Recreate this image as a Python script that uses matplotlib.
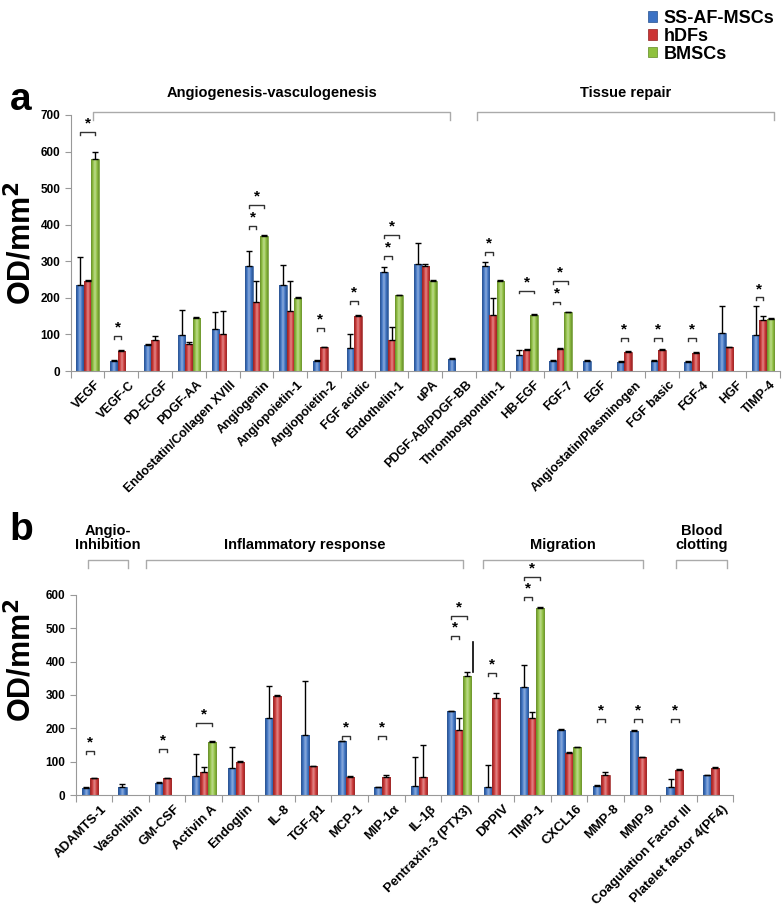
import numpy as np
import matplotlib.pyplot as plt
import matplotlib.transforms as mtransforms
from matplotlib.patches import Patch
from matplotlib.colors import LinearSegmentedColormap, to_rgb

plt.rcParams['font.family'] = ['Liberation Sans', 'DejaVu Sans']
plt.rcParams['font.weight'] = 'bold'

series = ['SS-AF-MSCs', 'hDFs', 'BMSCs']
colors = ['#3c72c4', '#cc3535', '#8fc13e']
edge_colors = ['#24508f', '#8f1f1f', '#5f8a22']

# ---- panel a data ----
cats_a = ['VEGF', 'VEGF-C', 'PD-ECGF', 'PDGF-AA', 'Endostatin/Collagen XVIII', 'Angiogenin',
          'Angiopoietin-1', 'Angiopoietin-2', 'FGF acidic', 'Endothelin-1', 'uPA',
          'PDGF-AB/PDGF-BB', 'Thrombospondin-1', 'HB-EGF', 'FGF-7', 'EGF',
          'Angiostatin/Plasminogen', 'FGF basic', 'FGF-4', 'HGF', 'TIMP-4']
ss_a = [236, 27, 71, 99, 116, 287, 236, 28, 63, 271, 293, 33, 288, 44, 28, 28, 25, 28, 25, 104, 99]
hdf_a = [246, 55, 85, 73, 101, 189, 164, 65, 150, 85, 286, 0, 154, 58, 61, 0, 53, 58, 50, 65, 140]
bm_a = [580, 0, 0, 145, 0, 370, 199, 0, 0, 207, 245, 0, 245, 153, 160, 0, 0, 0, 0, 0, 143]
ss_err_a = [75, 3, 3, 67, 44, 42, 54, 3, 38, 12, 57, 2, 9, 14, 2, 2, 2, 2, 2, 75, 78]
hdf_err_a = [3, 3, 11, 5, 64, 57, 82, 2, 2, 35, 7, 0, 46, 2, 3, 0, 2, 2, 2, 2, 10]
bm_err_a = [20, 0, 0, 2, 0, 2, 2, 0, 0, 2, 3, 0, 5, 2, 2, 0, 0, 0, 0, 0, 2]
# (category, from bar, to bar, height)
sig_a = [(0, 0, 2, 654), (1, 0, 1, 95), (5, 0, 1, 397), (5, 0, 2, 455), (7, 0, 1, 118),
         (8, 0, 1, 192), (9, 0, 1, 315), (9, 0, 2, 372), (12, 0, 1, 326), (13, 0, 2, 220),
         (14, 0, 1, 190), (14, 0, 2, 245), (16, 0, 1, 91), (17, 0, 1, 91), (18, 0, 1, 91),
         (20, 0, 1, 201)]
groups_a = [('Angiogenesis-vasculogenesis', 0.17, 10.74), ('Tissue repair', 11.53, 20.32)]

# ---- panel b data ----
cats_b = ['ADAMTS-1', 'Vasohibin', 'GM-CSF', 'Activin A', 'Endoglin', 'IL-8', 'TGF-β1', 'MCP-1',
          'MIP-1α', 'IL-1β', 'Pentraxin-3 (PTX3)', 'DPPIV', 'TIMP-1', 'CXCL16', 'MMP-8', 'MMP-9',
          'Coagulation Factor III', 'Platelet factor 4(PF4)']
ss_b = [22, 25, 35, 57, 82, 230, 181, 161, 23, 27, 251, 23, 324, 195, 28, 193, 25, 59]
hdf_b = [50, 0, 50, 68, 100, 297, 86, 55, 55, 53, 195, 292, 230, 127, 60, 113, 75, 82]
bm_b = [0, 0, 0, 159, 0, 0, 0, 0, 0, 0, 357, 0, 562, 143, 0, 0, 0, 0]
ss_err_b = [2, 7, 5, 65, 61, 97, 160, 2, 2, 86, 2, 67, 67, 2, 2, 2, 23, 2]
hdf_err_b = [2, 0, 2, 17, 2, 2, 2, 2, 5, 97, 35, 15, 20, 2, 8, 2, 2, 2]
bm_err_b = [0, 0, 0, 2, 0, 0, 0, 0, 0, 0, 11, 0, 2, 2, 0, 0, 0, 0]
ptx3_extra = (368, 458)
sig_b = [(0, 0, 1, 133), (2, 0, 1, 137), (3, 0, 2, 215), (7, 0, 1, 176), (8, 0, 1, 176),
         (10, 0, 1, 477), (10, 0, 2, 537), (11, 0, 1, 365), (12, 0, 1, 593), (12, 0, 2, 653),
         (14, 0, 1, 227), (15, 0, 1, 227), (16, 0, 1, 227)]
groups_b = [('Angio-\nInhibition', -0.17, 0.94), ('Inflammatory response', 1.42, 10.09),
            ('Migration', 10.65, 15.03), ('Blood\nclotting', 15.94, 17.33)]

W = 0.22
fig = plt.figure(figsize=(7.84, 9.06), dpi=100)
ax_a = fig.add_axes([0.0902, 0.5905, 0.9047, 0.2826])
ax_b = fig.add_axes([0.0966, 0.1225, 0.8388, 0.2208])


def shade_cmap(c):
    base = np.array(to_rgb(c))
    dark = base * 0.7
    light = base + (1 - base) * 0.45
    return LinearSegmentedColormap.from_list('cyl', [dark, base, light, base, dark * 1.05])


def draw_panel(ax, cats, vals, errs, ymax, step, label_size):
    x = np.arange(len(cats))
    grad = np.linspace(0, 1, 64).reshape(1, -1)
    for k in range(3):
        v = np.array(vals[k], dtype=float)
        e = np.array(errs[k], dtype=float)
        mask = v > 0
        xs = x[mask] + (k - 1) * W
        bars = ax.bar(xs, v[mask], width=W, color=colors[k], edgecolor=edge_colors[k],
                      linewidth=0.4, zorder=2)
        cmap = shade_cmap(colors[k])
        for b in bars:
            im = ax.imshow(grad, extent=[b.get_x(), b.get_x() + b.get_width(), 0, b.get_height()],
                           aspect='auto', cmap=cmap, zorder=2.1, interpolation='bicubic')
            im.set_clip_path(b)
        ax.errorbar(xs, v[mask], yerr=[np.zeros(mask.sum()), e[mask]], fmt='none',
                    ecolor='black', elinewidth=1, capsize=2.5, capthick=1, zorder=3)
    ax.set_xlim(-0.5, len(cats) - 0.5)
    ax.set_ylim(0, ymax)
    ax.set_yticks(np.arange(0, ymax + 1, step))
    ax.tick_params(axis='y', labelsize=8.5, color='#999999', length=4, width=0.8)
    ax.set_xticks(x)
    ax.set_xticks(np.arange(-0.5, len(cats), 1), minor=True)
    ax.tick_params(axis='x', which='major', length=0)
    ax.tick_params(axis='x', which='minor', length=5, color='#999999', width=0.8)
    offset = mtransforms.ScaledTranslation(0.07, -0.03, fig.dpi_scale_trans)
    ax.set_xticklabels(cats, rotation=45, ha='right', va='top', rotation_mode='anchor',
                       fontsize=label_size, fontweight='bold')
    for t in ax.get_xticklabels():
        t.set_transform(t.get_transform() + offset)
    for s in ['top', 'right']:
        ax.spines[s].set_visible(False)
    for s in ['left', 'bottom']:
        ax.spines[s].set_color('#999999')
        ax.spines[s].set_linewidth(0.8)
    for t in ax.get_yticklabels():
        t.set_fontweight('bold')


def draw_sig(ax, sigs, drop):
    for c, i, j, h in sigs:
        x0 = c + (i - 1) * W
        x1 = c + (j - 1) * W
        ax.plot([x0, x0, x1, x1], [h - drop, h, h, h - drop], color='#333333', lw=1,
                clip_on=False, zorder=4)
        ax.text((x0 + x1) / 2, h + drop * 0.5, '*', ha='center', va='bottom', fontsize=11,
                fontweight='bold', clip_on=False)


def draw_groups(ax, groups, y_line, drop, y_text):
    for name, x0, x1 in groups:
        ax.plot([x0, x0, x1, x1], [y_line - drop, y_line, y_line, y_line - drop],
                color='#aaaaaa', lw=1, clip_on=False)
        ax.text((x0 + x1) / 2, y_text, name, ha='center', va='bottom', fontsize=10.5,
                fontweight='bold', clip_on=False, linespacing=1.0)


draw_panel(ax_a, cats_a, [ss_a, hdf_a, bm_a], [ss_err_a, hdf_err_a, bm_err_a], 700, 100, 9)
draw_sig(ax_a, sig_a, 8)
draw_groups(ax_a, groups_a, 709, 22, 742)

draw_panel(ax_b, cats_b, [ss_b, hdf_b, bm_b], [ss_err_b, hdf_err_b, bm_err_b], 600, 100, 9.5)
ax_b.plot([10 + 1.65 * W, 10 + 1.65 * W], ptx3_extra, color='black', lw=1.2, zorder=3)
draw_sig(ax_b, sig_b, 9)
draw_groups(ax_b, groups_b, 705, 24, 730)

fig.text(0.028, 0.732, 'OD/mm$^\\mathbf{2}$', rotation=90, ha='center', va='center',
         fontsize=22, fontweight='bold')
fig.text(0.028, 0.272, 'OD/mm$^\\mathbf{2}$', rotation=90, ha='center', va='center',
         fontsize=22, fontweight='bold')
fig.text(0.012, 0.89, 'a', fontsize=28, fontweight='bold', ha='left', va='center')
fig.text(0.012, 0.415, 'b', fontsize=28, fontweight='bold', ha='left', va='center')

handles = [Patch(facecolor=c, edgecolor=ec, linewidth=0.5) for c, ec in zip(colors, edge_colors)]
fig.legend(handles, series, loc='upper left', bbox_to_anchor=(0.81, 1.003), frameon=False,
           prop={'weight': 'bold', 'size': 13}, handlelength=0.5, handleheight=0.5,
           handletextpad=0.4, labelspacing=0.05, borderpad=0.2)

fig.savefig('out.png', dpi=100)
